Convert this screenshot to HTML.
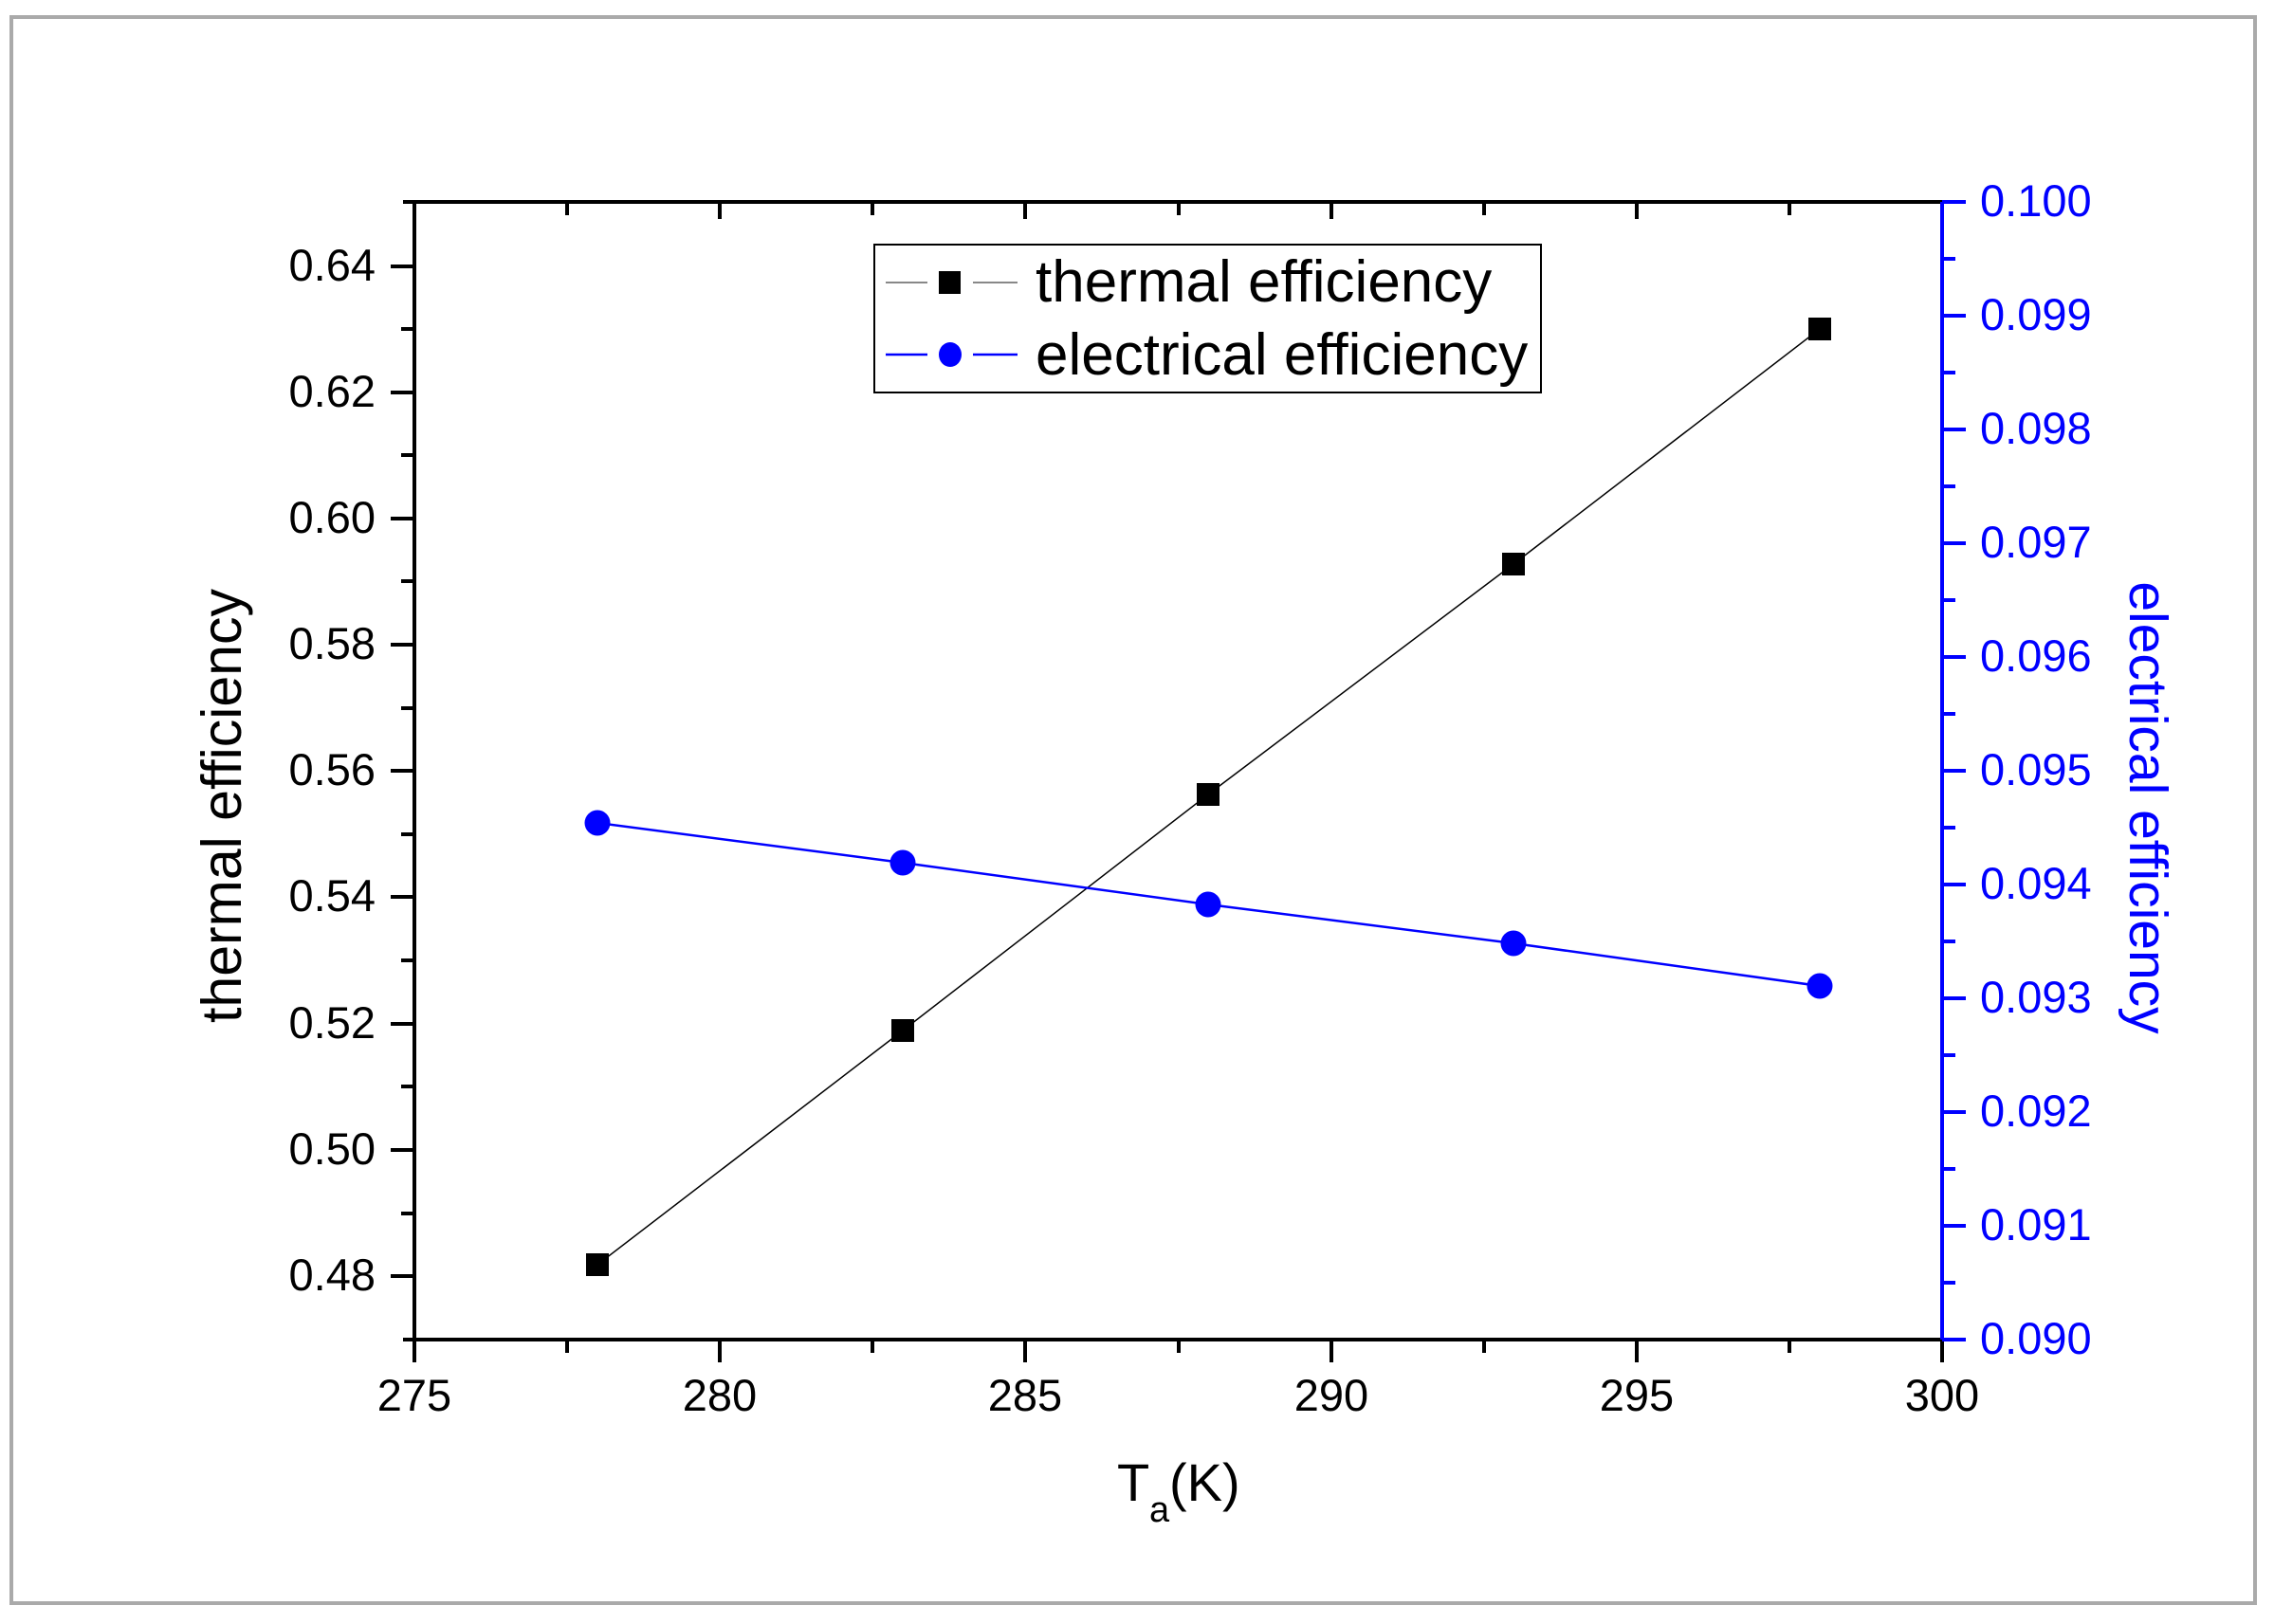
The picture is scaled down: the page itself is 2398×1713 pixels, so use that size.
<!DOCTYPE html>
<html><head><meta charset="utf-8"><style>
html,body{margin:0;padding:0;background:#fff;}
svg{display:block;font-family:"Liberation Sans",Arial,sans-serif;}
</style></head><body>
<svg width="2398" height="1713" viewBox="0 0 2398 1713" xmlns="http://www.w3.org/2000/svg">
<rect width="2398" height="1713" fill="#fff"/>
<rect x="12" y="18" width="2366" height="1673" fill="none" stroke="#aaa" stroke-width="4"/>
<path stroke="#000" stroke-width="4" fill="none" d="M437 211V1437M425 213H2048M425 1413H2048
M412 281h25M412 414h25M412 547h25M412 680h25M412 813h25M412 946h25M412 1080h25M412 1213h25M412 1346h25
M423 347h14M423 480h14M423 613h14M423 747h14M423 880h14M423 1013h14M423 1146h14M423 1280h14
M759 1413v24M1081 1413v24M1404 1413v24M1726 1413v24M2048 1413v24
M598 1413v14M920 1413v14M1243 1413v14M1565 1413v14M1887 1413v14
M598 213v14M759 213v18M920 213v14M1081 213v18M1243 213v14M1404 213v18M1565 213v14M1726 213v18M1887 213v14"/>
<path stroke="#00f" stroke-width="4" fill="none" d="M2048 213V1413
M2048 213h25M2048 333h25M2048 453h25M2048 573h25M2048 693h25M2048 813h25M2048 933h25M2048 1053h25M2048 1173h25M2048 1293h25M2048 1413h25
M2048 273h14M2048 393h14M2048 513h14M2048 633h14M2048 753h14M2048 873h14M2048 993h14M2048 1113h14M2048 1233h14M2048 1353h14"/>
<g font-size="47" fill="#000" text-anchor="end">
<text x="396" y="296">0.64</text><text x="396" y="429">0.62</text><text x="396" y="562">0.60</text>
<text x="396" y="695">0.58</text><text x="396" y="828">0.56</text><text x="396" y="961">0.54</text>
<text x="396" y="1095">0.52</text><text x="396" y="1228">0.50</text><text x="396" y="1361">0.48</text>
</g>
<g font-size="47" fill="#000" text-anchor="middle">
<text x="437" y="1488">275</text><text x="759" y="1488">280</text><text x="1081" y="1488">285</text>
<text x="1404" y="1488">290</text><text x="1726" y="1488">295</text><text x="2048" y="1488">300</text>
</g>
<g font-size="47" fill="#00f">
<text x="2088" y="228">0.100</text><text x="2088" y="348">0.099</text><text x="2088" y="468">0.098</text>
<text x="2088" y="588">0.097</text><text x="2088" y="708">0.096</text><text x="2088" y="828">0.095</text>
<text x="2088" y="948">0.094</text><text x="2088" y="1068">0.093</text><text x="2088" y="1188">0.092</text>
<text x="2088" y="1308">0.091</text><text x="2088" y="1428">0.090</text>
</g>
<text x="1178" y="1583" font-size="56" fill="#000">T</text>
<text x="1212" y="1605" font-size="38" fill="#000">a</text>
<text x="1233" y="1583" font-size="56" fill="#000">(K)</text>
<text transform="translate(254,850) rotate(-90)" font-size="59" fill="#000" text-anchor="middle">thermal efficiency</text>
<text transform="translate(2246,852) rotate(90)" font-size="57" fill="#00f" text-anchor="middle">electrical efficiency</text>
<polyline points="630,1334 952,1087 1274,838 1596,595 1919,347" fill="none" stroke="#000" stroke-width="1.5"/>
<path fill="#000" d="M618 1322h24v24h-24zM940 1075h24v24h-24zM1262 826h24v24h-24zM1584 583h24v24h-24zM1907 335h24v24h-24z"/>
<polyline points="630,868 952,910 1274,954 1596,995 1919,1040" fill="none" stroke="#00f" stroke-width="2.5"/>
<g fill="#00f">
<circle cx="630" cy="868" r="13.5"/><circle cx="952" cy="910" r="13.5"/><circle cx="1274" cy="954" r="13.5"/>
<circle cx="1596" cy="995" r="13.5"/><circle cx="1919" cy="1040" r="13.5"/>
</g>
<rect x="922" y="258" width="703" height="156" fill="#fff" stroke="#000" stroke-width="2"/>
<path stroke="#888" stroke-width="2" d="M934 298h44M1026 298h47"/>
<rect x="990" y="286" width="23" height="24" fill="#000"/>
<path stroke="#00f" stroke-width="2.5" d="M934 374h44M1026 374h47"/>
<ellipse cx="1002" cy="374" rx="12" ry="13" fill="#00f"/>
<text x="1092" y="318" font-size="62" fill="#000">thermal efficiency</text>
<text x="1092" y="395" font-size="62" fill="#000">electrical efficiency</text>
</svg>
</body></html>
